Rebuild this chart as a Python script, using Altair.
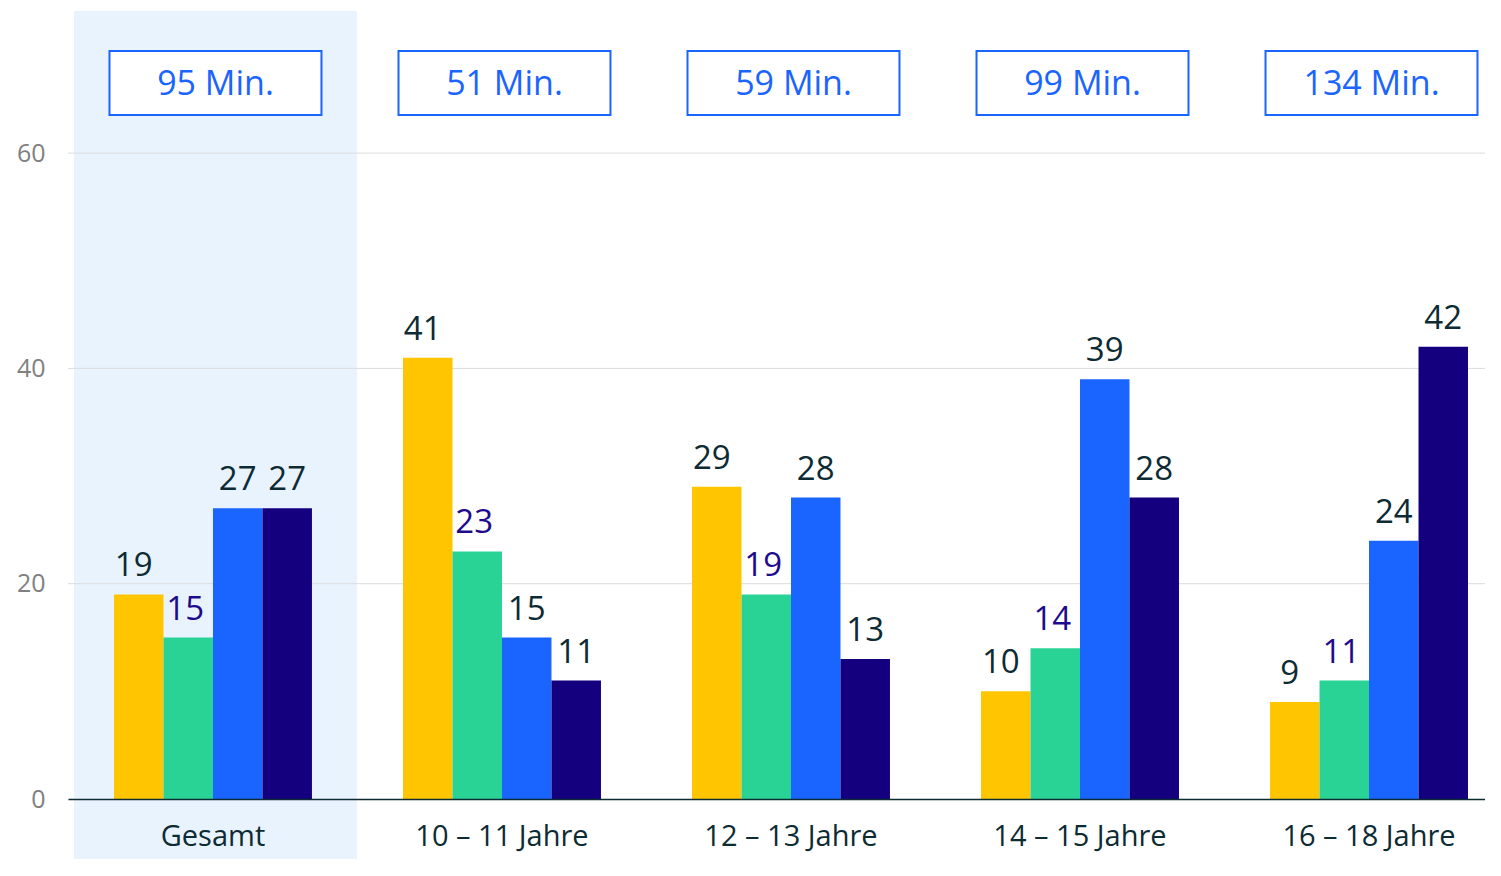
import altair as alt
import pandas as pd

categories = ["Gesamt", "10 – 11 Jahre", "12 – 13 Jahre", "14 – 15 Jahre", "16 – 18 Jahre"]
series = ["Gruppe 1", "Gruppe 2", "Gruppe 3", "Gruppe 4"]
values_g1 = [19, 41, 29, 10, 9]
values_g2 = [15, 23, 19, 14, 11]
values_g3 = [27, 15, 28, 39, 24]
values_g4 = [27, 11, 13, 28, 42]
minutes = ["95 Min.", "51 Min.", "59 Min.", "99 Min.", "134 Min."]
y_ticks = [0, 20, 40, 60]
grid_values = [20, 40, 60]

bar_colors = ["#FFC600", "#29D396", "#1A64FF", "#14007F"]
label_colors = ["#0D2B33", "#1E0A8C", "#0D2B33", "#0D2B33"]
label_dx = [-5, -3, 0, 0]
FONT = "Open Sans"
DARK = "#0D2B33"
BLUE = "#1A64FF"

rows = []
for s, vals in zip(series, [values_g1, values_g2, values_g3, values_g4]):
    for c, v in zip(categories, vals):
        rows.append({"Kategorie": c, "Serie": s, "Wert": v})
df = pd.DataFrame(rows)
df_min = pd.DataFrame({"Kategorie": categories, "Minuten": minutes})
df_hl = pd.DataFrame({"Kategorie": categories[:1]})
df_grid = pd.DataFrame({"Wert": grid_values})

x_scale = alt.Scale(domain=categories, paddingInner=0.315, paddingOuter=0.109, align=0.73)
y_scale = alt.Scale(domain=[0, 73.2], nice=False)

x_enc = alt.X("Kategorie:N", scale=x_scale, sort=categories,
              axis=alt.Axis(title=None, ticks=False, labelAngle=0, labelFontSize=29,
                            labelColor=DARK, labelFont=FONT, labelPadding=23,
                            domainColor=DARK, domainWidth=1.5, zindex=1, grid=False))
y_enc = alt.Y("Wert:Q", scale=y_scale,
              axis=alt.Axis(title=None, values=y_ticks, grid=False, domain=False, ticks=False,
                            labelFontSize=25, labelColor="#808080", labelFont=FONT, labelPadding=23))
xoff = alt.XOffset("Serie:N", sort=series, scale=alt.Scale(domain=series, paddingInner=0, paddingOuter=0))

highlight = alt.Chart(df_hl).mark_bar(
    color="#E9F3FE", width=alt.RelativeBandSize(283 / 198), xOffset=2.5
).encode(x=x_enc, y=alt.value(0), y2=alt.value(865))

grid = alt.Chart(df_grid).mark_rule(color="#DCDCDC", strokeWidth=1).encode(y=y_enc)

bars = alt.Chart(df).mark_bar().encode(
    x=x_enc,
    xOffset=xoff,
    y=y_enc,
    color=alt.Color("Serie:N", sort=series, scale=alt.Scale(domain=series, range=bar_colors), legend=None),
)

label_layers = []
for s, col, dx in zip(series, label_colors, label_dx):
    label_layers.append(
        alt.Chart(df).transform_filter(alt.datum.Serie == s).mark_text(
            fontSize=33, font=FONT, baseline="alphabetic", align="center", dy=-18, dx=dx, color=col
        ).encode(x=x_enc, xOffset=xoff, y=y_enc, text="Wert:Q")
    )

boxes = alt.Chart(df_min).mark_bar(
    fill="white", stroke=BLUE, strokeWidth=2, width=alt.RelativeBandSize(212 / 198), xOffset=2.5
).encode(x=x_enc, y=alt.value(40), y2=alt.value(104))

box_text = alt.Chart(df_min).mark_text(
    fontSize=34, font=FONT, color=BLUE, baseline="alphabetic", align="center", xOffset=2.5
).encode(x=x_enc, y=alt.value(84), text="Minuten:N")

chart = alt.layer(highlight, grid, bars, *label_layers, boxes, box_text).properties(
    width=1417, height=788,
    background="white",
    autosize=alt.AutoSizeParams(type="none"),
    padding={"left": 60, "top": 3, "right": 0, "bottom": 60},
).configure_view(stroke="transparent", strokeWidth=0)

chart.save("out.html", embed_options={"renderer": "svg", "actions": False})
